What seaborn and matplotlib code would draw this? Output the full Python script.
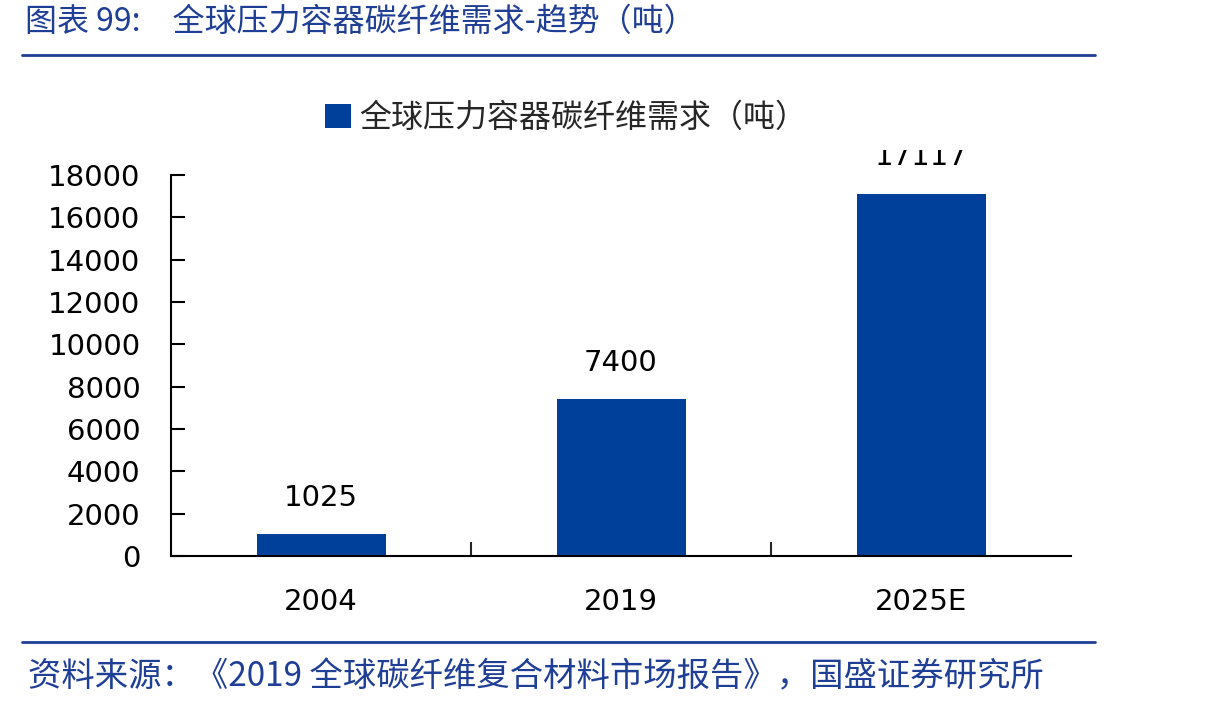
import matplotlib
matplotlib.use("Agg")
import matplotlib.pyplot as plt
import seaborn as sns
import pandas as pd
from matplotlib.lines import Line2D
from matplotlib.patches import Patch
from matplotlib.transforms import Bbox

# ---- data ----
categories = ["2004", "2019", "2025E"]
values = [1025, 7400, 17117]
value_labels = ["1025", "7400", "17117"]
yticks = [0, 2000, 4000, 6000, 8000, 10000, 12000, 14000, 16000, 18000]
series_name = "全球压力容器碳纤维需求（吨）"
title_text = "图表 99:\u3000全球压力容器碳纤维需求-趋势（吨）"
source_text = "资料来源：《2019 全球碳纤维复合材料市场报告》，国盛证券研究所"

BAR = "#00409A"
BLUE = "#1F3E96"
CJK = ["Noto Sans CJK SC", "DejaVu Sans"]

sns.set_theme(style="white")
plt.rcParams["font.family"] = ["DejaVu Sans", "Noto Sans CJK SC"]

W, H = 1214, 708
fig = plt.figure(figsize=(W / 100, H / 100), dpi=100)
ax = fig.add_axes([171 / W, 1 - 556 / H, 900 / W, 381 / H])

df = pd.DataFrame({"cat": categories, "val": values})
sns.barplot(data=df, x="cat", y="val", color=BAR, width=0.43, ax=ax,
            saturation=1, edgecolor="none")

ax.set_xlim(-0.5, 2.5)
ax.set_ylim(0, 18000)
ax.set_yticks(yticks)
ax.set_xlabel("")
ax.set_ylabel("")
ax.tick_params(axis="y", direction="in", length=10, width=1.5, labelsize=21,
               left=True, pad=22, colors="black")
ax.tick_params(axis="x", length=0, labelsize=21, pad=23, colors="black")
ax.set_xticks([0.5, 1.5], minor=True)
ax.tick_params(axis="x", which="minor", direction="in", length=10, width=1.5,
               bottom=True)
for s in ["top", "right"]:
    ax.spines[s].set_visible(False)
for s in ["left", "bottom"]:
    ax.spines[s].set_color("black")
    ax.spines[s].set_linewidth(1.5)

clip = Bbox.from_extents(0, 0, W, H - 150)
for i, (v, lab) in enumerate(zip(values, value_labels)):
    t = ax.annotate(lab, (i, v), xytext=(0, 16), textcoords="offset points",
                    ha="center", va="bottom", fontsize=21, color="black",
                    annotation_clip=False)
    t.set_clip_on(True)
    t.set_clip_box(clip)

# legend
handle = Patch(facecolor=BAR, edgecolor="none")
fig.legend([handle], [series_name], loc="center",
           bbox_to_anchor=(566 / W, 1 - 118 / H), frameon=False,
           handlelength=0.8, handleheight=0.8, handletextpad=0.25,
           prop={"family": CJK, "size": 23})

# title and source
fig.text(25 / W, 1 - 22 / H, title_text, color=BLUE, fontsize=23,
         ha="left", va="center", family=CJK)
fig.add_artist(Line2D([22 / W, 1095 / W], [1 - 55 / H] * 2, color=BLUE, lw=2))
fig.add_artist(Line2D([22 / W, 1095 / W], [1 - 642 / H] * 2, color=BLUE, lw=2))
fig.text(28 / W, 1 - 677 / H, source_text, color=BLUE, fontsize=24,
         ha="left", va="center", family=CJK)

fig.savefig("out.png", dpi=100)
